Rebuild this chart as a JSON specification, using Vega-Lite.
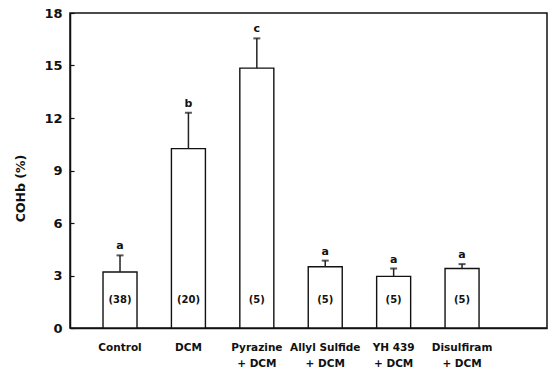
{
  "$schema": "https://vega.github.io/schema/vega-lite/v6.json",
  "width": 477,
  "height": 315,
  "autosize": {"type": "none"},
  "padding": {"left": 70, "top": 13, "right": 6, "bottom": 45},
  "background": "white",
  "config": {
    "view": {"stroke": "#111", "strokeWidth": 1.5},
    "font": "DejaVu Sans",
    "axis": {"domainColor": "#111", "domainWidth": 1.5, "labelColor": "#111", "titleColor": "#111", "grid": false}
  },
  "data": {
    "values": [
      {"group": "Control", "mean": 3.2, "upper": 4.15, "letter": "a", "n": "(38)"},
      {"group": "DCM", "mean": 10.25, "upper": 12.3, "letter": "b", "n": "(20)"},
      {"group": "Pyrazine + DCM", "mean": 14.85, "upper": 16.55, "letter": "c", "n": "(5)"},
      {"group": "Allyl Sulfide + DCM", "mean": 3.5, "upper": 3.85, "letter": "a", "n": "(5)"},
      {"group": "YH 439 + DCM", "mean": 2.95, "upper": 3.4, "letter": "a", "n": "(5)"},
      {"group": "Disulfiram + DCM", "mean": 3.4, "upper": 3.65, "letter": "a", "n": "(5)"}
    ]
  },
  "encoding": {
    "x": {
      "field": "group",
      "type": "nominal",
      "sort": null,
      "scale": {"paddingInner": 0.503, "paddingOuter": 0.738, "align": 0.327},
      "axis": {
        "title": null,
        "ticks": false,
        "labelAngle": 0,
        "labelFont": "DejaVu Sans",
        "labelFontWeight": "bold",
        "labelFontSize": 10.5,
        "labelPadding": 14,
        "labelLineHeight": 16,
        "labelExpr": "indexof(datum.label, ' + ') > 0 ? [slice(datum.label, 0, indexof(datum.label, ' + ')), '+ DCM'] : datum.label"
      }
    }
  },
  "layer": [
    {
      "mark": {"type": "bar", "fill": "white", "stroke": "#111", "strokeWidth": 1.4},
      "encoding": {
        "y": {
          "field": "mean",
          "type": "quantitative",
          "scale": {"domain": [0, 18], "nice": false},
          "axis": {
            "values": [0, 3, 6, 9, 12, 15, 18],
            "title": "COHb (%)",
            "titleFont": "DejaVu Sans",
            "titleFontWeight": "bold",
            "titleFontSize": 12.5,
            "titlePadding": 16,
            "titleY": 175,
            "labelFont": "DejaVu Sans",
            "labelFontWeight": "bold",
            "labelFontSize": 13,
            "tickSize": -4,
            "tickColor": "#111",
            "tickWidth": 1.2,
            "labelPadding": 12
          }
        }
      }
    },
    {
      "mark": {"type": "rule", "stroke": "#222", "strokeWidth": 1.5},
      "encoding": {
        "y": {"field": "mean", "type": "quantitative"},
        "y2": {"field": "upper"}
      }
    },
    {
      "mark": {"type": "tick", "orient": "horizontal", "size": 7, "thickness": 2, "color": "#111"},
      "encoding": {
        "y": {"field": "upper", "type": "quantitative"}
      }
    },
    {
      "mark": {"type": "text", "font": "DejaVu Sans", "fontWeight": "bold", "fontSize": 11, "baseline": "alphabetic", "dy": -6, "color": "#111"},
      "encoding": {
        "y": {"field": "upper", "type": "quantitative"},
        "text": {"field": "letter"}
      }
    },
    {
      "mark": {"type": "text", "font": "DejaVu Sans", "fontWeight": "bold", "fontSize": 10, "baseline": "middle", "color": "#111"},
      "encoding": {
        "y": {"datum": 1.6, "type": "quantitative"},
        "text": {"field": "n"}
      }
    }
  ]
}
